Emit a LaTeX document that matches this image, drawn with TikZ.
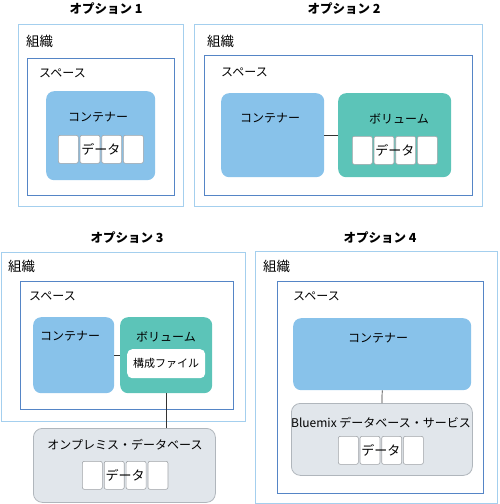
\documentclass[tikz,border=0pt]{standalone}
\usepackage{fontspec}
\setmainfont{Noto Sans CJK JP}
\usetikzlibrary{calc}

\definecolor{orgline}{HTML}{A4CFEE}
\definecolor{spaceline}{HTML}{5585C6}
\definecolor{contfill}{HTML}{88C2EA}
\definecolor{volfill}{HTML}{5CC4B8}
\definecolor{cellline}{HTML}{A0A4A8}
\definecolor{dbfill}{HTML}{E1E6EB}
\definecolor{dbline}{HTML}{B0B6BC}

\tikzset{
    box/.style={anchor=north west, inner sep=0pt},
    org/.style={box, draw=orgline, line width=1.4pt},
    space/.style={box, draw=spaceline, line width=1.2pt},
    cont/.style={box, fill=contfill, rounded corners=8pt},
    vol/.style={box, fill=volfill, rounded corners=8pt},
    db/.style={box, fill=dbfill, draw=dbline, line width=0.8pt, rounded corners=9pt},
    cell/.style={box, fill=white, draw=cellline, line width=0.6pt, rounded corners=2pt,
        minimum width=20pt, minimum height=28pt},
    txt/.style={font=\fontsize{12}{14}\selectfont, inner sep=0pt},
    big/.style={font=\fontsize{13.5}{15}\selectfont, inner sep=0pt},
    dat/.style={font=\fontsize{13}{15}\selectfont, inner sep=0pt},
    title/.style={font=\fontsize{12.5}{14}\selectfont\bfseries, inner sep=0pt},
    link/.style={draw=black!80, line width=0.7pt},
}

\begin{document}
\begin{tikzpicture}[x=1pt, y=-1pt]
    \useasboundingbox (0,0) rectangle (500,504);

    % option 1
    \node[title] (t1) at (106,9) {オプション 1};
    \node[org, minimum width=165pt, minimum height=182pt] (org1) at (18,24) {};
    \node[big, anchor=west] (o1) at (26,41) {組織};
    \node[space, minimum width=147pt, minimum height=137pt] (sp1) at (27,58) {};
    \node[txt, anchor=west] (s1) at (39,73) {スペース};
    \node[cont, minimum width=109pt, minimum height=89pt] (cont1) at (46,91) {};
    \node[txt] (c1) at (98,117) {コンテナー};
    \foreach \i in {0,...,3}
        \node[cell] (a\i) at (58+\i*21.7,135) {};
    \node[dat] (d1) at ($(a1)!0.5!(a2)$) {データ};

    % option 2
    \node[title] (t2) at (344,9) {オプション 2};
    \node[org, minimum width=288pt, minimum height=182pt] (org2) at (194,24) {};
    \node[big, anchor=west] (o2) at (207,41) {組織};
    \node[space, minimum width=268pt, minimum height=140pt] (sp2) at (204,55) {};
    \node[txt, anchor=west] (s2) at (221,72) {スペース};
    \node[cont, minimum width=103pt, minimum height=84pt] (cont2) at (221,93) {};
    \node[txt] (c2) at (270,118) {コンテナー};
    \node[vol, minimum width=113pt, minimum height=84pt] (vol2) at (338,93) {};
    \node[txt] (v2) at (399,119) {ボリューム};
    \foreach \i in {0,...,3}
        \node[cell] (b\i) at (352+\i*21.7,136) {};
    \node[dat] (d2) at ($(b1)!0.5!(b2)$) {データ};
    \path[link] (cont2.east) -- (vol2.west);

    % option 3
    \node[title] (t3) at (127,238) {オプション 3};
    \node[org, minimum width=244pt, minimum height=169pt] (org3) at (0.7,252) {};
    \node[big, anchor=west] (o3) at (8,266) {組織};
    \node[space, minimum width=213pt, minimum height=128pt] (sp3) at (20,281) {};
    \node[txt, anchor=west] (s3) at (29,296) {スペース};
    \node[cont, minimum width=81pt, minimum height=76pt] (cont3) at (33,317) {};
    \node[txt] (c3) at (70,336) {コンテナー};
    \node[vol, minimum width=92pt, minimum height=76pt] (vol3) at (120,317) {};
    \node[txt] (v3) at (166,337) {ボリューム};
    \node[box, fill=white, rounded corners=5pt, minimum width=78pt, minimum height=29pt,
        font=\fontsize{11}{13}\selectfont] (cfg) at (127,349) {構成ファイル};
    \node[db, minimum width=182pt, minimum height=74pt] (db3) at (33,428) {};
    \node[txt] (n3) at (125,445) {オンプレミス・データベース};
    \foreach \i in {0,...,3}
        \node[cell] (e\i) at (82+\i*21.9,461) {};
    \node[dat] (d3) at ($(e1)!0.5!(e2)$) {データ};
    \path[link] (cont3.east) -- (vol3.west);
    \path[link] (vol3.south) -- (vol3.south |- db3.north);

    % option 4
    \node[title] (t4) at (380,238) {オプション 4};
    \node[org, minimum width=242pt, minimum height=252pt] (org4) at (255,251) {};
    \node[big, anchor=west] (o4) at (263,266) {組織};
    \node[space, minimum width=206pt, minimum height=212pt] (sp4) at (277,281) {};
    \node[txt, anchor=west] (s4) at (293,296) {スペース};
    \node[cont, minimum width=178pt, minimum height=72pt] (cont4) at (293,318) {};
    \node[txt] (c4) at (378,338) {コンテナー};
    \node[db, minimum width=181pt, minimum height=72pt] (db4) at (291,403) {};
    \node[txt] (n4) at (381,423) {Bluemix データベース・サービス};
    \foreach \i in {0,...,3}
        \node[cell] (f\i) at (338+\i*21.7,436) {};
    \node[dat] (d4) at ($(f1)!0.5!(f2)$) {データ};
    \path[link] (cont4.south) -- (db4.north);
\end{tikzpicture}
\end{document}
